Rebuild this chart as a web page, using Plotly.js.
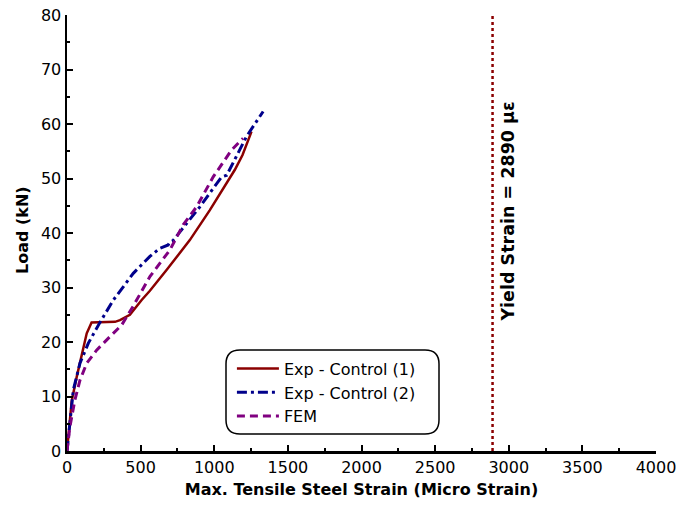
<!DOCTYPE html>
<html>
<head>
<meta charset="utf-8">
<script src="https://cdn.plot.ly/plotly-3.0.1.min.js"></script>
<style>html,body{margin:0;padding:0;background:#fff;}#chart{width:696px;height:510px;}</style>
</head>
<body>
<div id="chart"></div>
<script>
// Exp - Control (1)
const exp1Strain = [0, 32, 66, 100, 134, 167, 250, 326, 360, 427, 507, 563, 676, 834, 970, 1140, 1192, 1253];
const exp1Load   = [0, 9.2, 13.6, 17.9, 21.6, 23.6, 23.6, 23.7, 24.0, 25.0, 27.7, 29.4, 33.2, 38.7, 44.2, 51.6, 54.3, 58.6];
// Exp - Control (2)
const exp2Strain = [0, 20, 43, 88, 145, 224, 315, 450, 563, 631, 687, 700, 720, 767, 902, 993, 1050, 1085, 1140, 1219, 1332];
const exp2Load   = [0, 5.7, 11.2, 16.1, 19.8, 23.6, 27.7, 32.6, 35.7, 37.2, 37.8, 38.4, 38.6, 40.2, 44.8, 48.2, 50.3, 50.6, 53.4, 57.7, 62.3];
// FEM
const femStrain = [0, 20, 54, 88, 134, 201, 292, 371, 450, 563, 699, 789, 880, 993, 1117, 1196];
const femLoad   = [0, 4.5, 9.4, 13.0, 16.1, 18.5, 21.0, 23.1, 26.6, 32.0, 36.9, 41.5, 44.8, 50.3, 55.2, 57.4];
// Yield strain line
const yieldStrain = [2890, 2890];
const yieldLoad = [0, 80];
const yieldLabel = 'Yield Strain = 2890 µε';

const font = 'DejaVu Sans, Verdana, sans-serif';

const traces = [
  {x: exp1Strain, y: exp1Load, mode: 'lines', name: 'Exp - Control (1)',
   line: {color: '#8B0000', width: 2.5}},
  {x: exp2Strain, y: exp2Load, mode: 'lines', name: 'Exp - Control (2)',
   line: {color: '#00008B', width: 3, dash: '10px,4px,3px,4px'}},
  {x: femStrain, y: femLoad, mode: 'lines', name: 'FEM',
   line: {color: '#800080', width: 3, dash: '8px,5px'}},
  {x: yieldStrain, y: yieldLoad, mode: 'lines', showlegend: false,
   line: {color: '#8B0000', width: 2.5, dash: 'dot'}}
];

// rounded legend box in paper coords
const x0 = (226-67)/589, x1 = (439-67)/589;
const yT = (451-350)/436, yB = (451-434)/436;
const rx = 14/589, ry = 14/436;
const boxPath = `M ${x0+rx},${yT} L ${x1-rx},${yT} Q ${x1},${yT} ${x1},${yT-ry} L ${x1},${yB+ry} Q ${x1},${yB} ${x1-rx},${yB} L ${x0+rx},${yB} Q ${x0},${yB} ${x0},${yB+ry} L ${x0},${yT-ry} Q ${x0},${yT} ${x0+rx},${yT} Z`;

const layout = {
  width: 696, height: 510,
  margin: {l: 67, r: 40, t: 15, b: 59},
  paper_bgcolor: '#fff', plot_bgcolor: '#fff',
  font: {family: font, size: 16, color: '#000'},
  showlegend: true,
  legend: {x: 0.28, y: 0.228, xanchor: 'left', yanchor: 'top', bgcolor: 'rgba(0,0,0,0)',
    borderwidth: 0, itemwidth: 42, font: {family: font, size: 16, color: '#000'}, tracegroupgap: 0},
  xaxis: {range: [0, 4000], dtick: 500, tick0: 0, showgrid: false, zeroline: false,
    showline: true, linecolor: '#000', linewidth: 2.5, ticks: 'inside', ticklen: 6, tickwidth: 2,
    tickcolor: '#000', minor: {dtick: 250, ticks: 'inside', ticklen: 3, tickwidth: 2, tickcolor: '#000'},
    tickfont: {family: font, size: 16},
    title: {text: '<b>Max. Tensile Steel Strain (Micro Strain)</b>', font: {family: font, size: 16}, standoff: 8}},
  yaxis: {range: [0, 80], dtick: 10, tick0: 0, showgrid: false, zeroline: false,
    showline: true, linecolor: '#000', linewidth: 2.5, ticks: 'inside', ticklen: 6, tickwidth: 2,
    tickcolor: '#000', minor: {dtick: 5, ticks: 'inside', ticklen: 3, tickwidth: 2, tickcolor: '#000'},
    tickfont: {family: font, size: 16}},
  shapes: [{type: 'path', xref: 'paper', yref: 'paper', path: boxPath,
    line: {color: '#000', width: 1.5}, fillcolor: 'rgba(0,0,0,0)'}],
  annotations: [
    {xref: 'paper', yref: 'paper', x: (22-67)/589, y: (451-230)/436, text: '<b>Load (kN)</b>',
     textangle: -90, showarrow: false, font: {family: font, size: 16}, xanchor: 'center', yanchor: 'middle'},
    {xref: 'x', yref: 'paper', x: yieldStrain[0], xshift: 15, y: (451-212)/436, text: '<b>' + yieldLabel + '</b>',
     textangle: -90, showarrow: false, font: {family: font, size: 17.5}, xanchor: 'center', yanchor: 'middle'}
  ]
};

Plotly.newPlot('chart', traces, layout, {displayModeBar: false, staticPlot: true});
</script>
</body>
</html>
